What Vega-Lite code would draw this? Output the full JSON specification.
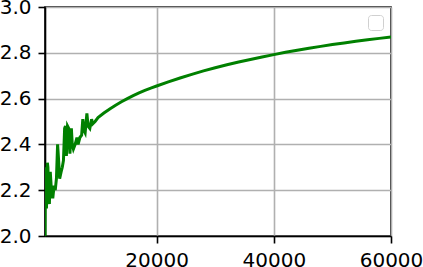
{
  "$schema": "https://vega.github.io/schema/vega-lite/v6.json",
  "width": 346,
  "height": 229,
  "autosize": {"type": "none"},
  "padding": {"left": 45, "top": 7, "right": 32, "bottom": 31},
  "background": "white",
  "config": {
    "view": {"stroke": "black", "strokeWidth": 1.6},
    "font": "DejaVu Sans",
    "axis": {
      "labelFont": "DejaVu Sans",
      "labelFontSize": 20,
      "labelColor": "black",
      "tickColor": "black",
      "tickSize": 7,
      "tickWidth": 1.6,
      "domainColor": "black",
      "domainWidth": 1.6,
      "gridColor": "#b0b0b0",
      "gridWidth": 1.6,
      "title": null
    }
  },
  "data": {
    "values": [
      {"x": 950, "y": 1.9},
      {"x": 1000, "y": 2.3},
      {"x": 1100, "y": 2.2},
      {"x": 1200, "y": 2.12},
      {"x": 1350, "y": 2.32},
      {"x": 1450, "y": 2.3},
      {"x": 1550, "y": 2.17},
      {"x": 1700, "y": 2.14},
      {"x": 1850, "y": 2.28},
      {"x": 1950, "y": 2.24},
      {"x": 2100, "y": 2.17},
      {"x": 2300, "y": 2.17},
      {"x": 2500, "y": 2.22},
      {"x": 2700, "y": 2.2},
      {"x": 2900, "y": 2.25},
      {"x": 3100, "y": 2.4},
      {"x": 3250, "y": 2.34},
      {"x": 3450, "y": 2.25},
      {"x": 3700, "y": 2.28},
      {"x": 3900, "y": 2.3},
      {"x": 4100, "y": 2.33},
      {"x": 4300, "y": 2.47},
      {"x": 4450, "y": 2.48},
      {"x": 4600, "y": 2.35},
      {"x": 4800, "y": 2.48},
      {"x": 5000, "y": 2.47},
      {"x": 5200, "y": 2.36},
      {"x": 5450, "y": 2.47},
      {"x": 5600, "y": 2.4},
      {"x": 5800, "y": 2.38},
      {"x": 6100, "y": 2.4},
      {"x": 6400, "y": 2.43},
      {"x": 6600, "y": 2.4},
      {"x": 6900, "y": 2.43},
      {"x": 7200, "y": 2.44},
      {"x": 7400, "y": 2.51},
      {"x": 7600, "y": 2.46},
      {"x": 7800, "y": 2.45},
      {"x": 8100, "y": 2.535},
      {"x": 8300, "y": 2.48},
      {"x": 8600, "y": 2.47},
      {"x": 8900, "y": 2.51},
      {"x": 9100, "y": 2.49},
      {"x": 9500, "y": 2.5},
      {"x": 10000, "y": 2.517},
      {"x": 11000, "y": 2.537},
      {"x": 12000, "y": 2.555},
      {"x": 13000, "y": 2.571},
      {"x": 14000, "y": 2.586},
      {"x": 15000, "y": 2.6},
      {"x": 16000, "y": 2.613},
      {"x": 17000, "y": 2.625},
      {"x": 18000, "y": 2.636},
      {"x": 19000, "y": 2.646},
      {"x": 20000, "y": 2.655},
      {"x": 22000, "y": 2.673},
      {"x": 24000, "y": 2.69},
      {"x": 26000, "y": 2.706},
      {"x": 28000, "y": 2.721},
      {"x": 30000, "y": 2.735},
      {"x": 32000, "y": 2.748},
      {"x": 34000, "y": 2.76},
      {"x": 36000, "y": 2.771},
      {"x": 38000, "y": 2.782},
      {"x": 40000, "y": 2.792},
      {"x": 42000, "y": 2.802},
      {"x": 44000, "y": 2.811},
      {"x": 46000, "y": 2.82},
      {"x": 48000, "y": 2.828},
      {"x": 50000, "y": 2.836},
      {"x": 52000, "y": 2.843},
      {"x": 54000, "y": 2.85},
      {"x": 56000, "y": 2.857},
      {"x": 58000, "y": 2.863},
      {"x": 60000, "y": 2.869}
    ]
  },
  "mark": {"type": "line", "strokeWidth": 3, "clip": true, "strokeJoin": "miter"},
  "encoding": {
    "x": {
      "field": "x",
      "type": "quantitative",
      "scale": {"domain": [950, 60000], "nice": false, "zero": false},
      "axis": {"values": [20000, 40000, 60000], "format": "d", "labelPadding": 7, "grid": true, "labelFlush": false, "labelOverlap": false}
    },
    "y": {
      "field": "y",
      "type": "quantitative",
      "scale": {"domain": [2, 3], "nice": false, "zero": false},
      "axis": {"values": [2.0, 2.2, 2.4, 2.6, 2.8, 3.0], "format": ".1f", "labelPadding": 7, "grid": true, "labelFlush": false, "labelOverlap": false}
    },
    "color": {
      "datum": " ",
      "scale": {"range": ["#008000"]},
      "legend": {
        "title": null,
        "orient": "top-right",
        "offset": 8,
        "padding": 7,
        "symbolOpacity": 0,
        "symbolSize": 1,
        "symbolStrokeWidth": 0,
        "labelExpr": "''",
        "labelFontSize": 1,
        "labelOffset": 0,
        "strokeColor": "#d0d0d0",
        "fillColor": "white",
        "cornerRadius": 3
      }
    }
  }
}
